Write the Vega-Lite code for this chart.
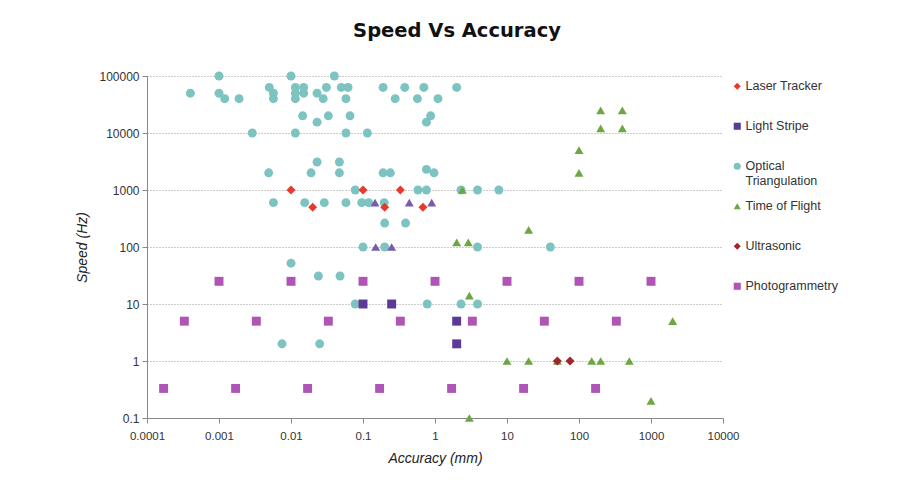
{
  "$schema": "https://vega.github.io/schema/vega-lite/v6.json",
  "autosize": "none",
  "width": 576,
  "height": 342,
  "padding": {"left": 147, "top": 76, "right": 189, "bottom": 69},
  "background": "white",
  "title": {
    "text": "Speed Vs Accuracy",
    "font": "DejaVu Sans",
    "fontSize": 19.5,
    "fontWeight": "bold",
    "color": "#111111",
    "anchor": "middle",
    "dx": 22,
    "offset": 29
  },
  "config": {
    "view": {"stroke": null},
    "axis": {"labelFont": "Liberation Sans", "titleFont": "Liberation Sans", "labelColor": "#333333", "titleColor": "#222222", "domainColor": "#888888", "tickColor": "#888888", "tickSize": 5}
  },
  "data": {
    "values": [
      {"series": "Optical Triangulation", "acc": 0.001, "speed": 100000},
      {"series": "Optical Triangulation", "acc": 0.01, "speed": 100000},
      {"series": "Optical Triangulation", "acc": 0.04, "speed": 100000},
      {"series": "Optical Triangulation", "acc": 0.005, "speed": 63000},
      {"series": "Optical Triangulation", "acc": 0.0115, "speed": 63000},
      {"series": "Optical Triangulation", "acc": 0.015, "speed": 63000},
      {"series": "Optical Triangulation", "acc": 0.031, "speed": 63000},
      {"series": "Optical Triangulation", "acc": 0.05, "speed": 63000},
      {"series": "Optical Triangulation", "acc": 0.062, "speed": 63000},
      {"series": "Optical Triangulation", "acc": 0.19, "speed": 63000},
      {"series": "Optical Triangulation", "acc": 0.38, "speed": 63000},
      {"series": "Optical Triangulation", "acc": 0.7, "speed": 63000},
      {"series": "Optical Triangulation", "acc": 2.0, "speed": 63000},
      {"series": "Optical Triangulation", "acc": 0.0004, "speed": 50000},
      {"series": "Optical Triangulation", "acc": 0.001, "speed": 50000},
      {"series": "Optical Triangulation", "acc": 0.0057, "speed": 50000},
      {"series": "Optical Triangulation", "acc": 0.0115, "speed": 50000},
      {"series": "Optical Triangulation", "acc": 0.015, "speed": 50000},
      {"series": "Optical Triangulation", "acc": 0.023, "speed": 50000},
      {"series": "Optical Triangulation", "acc": 0.0012, "speed": 40000},
      {"series": "Optical Triangulation", "acc": 0.0019, "speed": 40000},
      {"series": "Optical Triangulation", "acc": 0.0057, "speed": 40000},
      {"series": "Optical Triangulation", "acc": 0.0115, "speed": 40000},
      {"series": "Optical Triangulation", "acc": 0.028, "speed": 40000},
      {"series": "Optical Triangulation", "acc": 0.058, "speed": 40000},
      {"series": "Optical Triangulation", "acc": 0.28, "speed": 40000},
      {"series": "Optical Triangulation", "acc": 0.57, "speed": 40000},
      {"series": "Optical Triangulation", "acc": 1.1, "speed": 40000},
      {"series": "Optical Triangulation", "acc": 0.0145, "speed": 20000},
      {"series": "Optical Triangulation", "acc": 0.033, "speed": 20000},
      {"series": "Optical Triangulation", "acc": 0.066, "speed": 20000},
      {"series": "Optical Triangulation", "acc": 0.87, "speed": 20000},
      {"series": "Optical Triangulation", "acc": 0.023, "speed": 15500},
      {"series": "Optical Triangulation", "acc": 0.76, "speed": 15500},
      {"series": "Optical Triangulation", "acc": 0.0029, "speed": 10000},
      {"series": "Optical Triangulation", "acc": 0.0115, "speed": 10000},
      {"series": "Optical Triangulation", "acc": 0.058, "speed": 10000},
      {"series": "Optical Triangulation", "acc": 0.115, "speed": 10000},
      {"series": "Optical Triangulation", "acc": 0.023, "speed": 3100},
      {"series": "Optical Triangulation", "acc": 0.047, "speed": 3100},
      {"series": "Optical Triangulation", "acc": 0.0049, "speed": 2000},
      {"series": "Optical Triangulation", "acc": 0.019, "speed": 2000},
      {"series": "Optical Triangulation", "acc": 0.047, "speed": 2000},
      {"series": "Optical Triangulation", "acc": 0.19, "speed": 2000},
      {"series": "Optical Triangulation", "acc": 0.24, "speed": 2000},
      {"series": "Optical Triangulation", "acc": 0.76, "speed": 2300},
      {"series": "Optical Triangulation", "acc": 0.97, "speed": 2000},
      {"series": "Optical Triangulation", "acc": 0.078, "speed": 1000},
      {"series": "Optical Triangulation", "acc": 0.58, "speed": 1000},
      {"series": "Optical Triangulation", "acc": 0.76, "speed": 1000},
      {"series": "Optical Triangulation", "acc": 2.3, "speed": 1000},
      {"series": "Optical Triangulation", "acc": 3.9, "speed": 1000},
      {"series": "Optical Triangulation", "acc": 7.7, "speed": 1000},
      {"series": "Optical Triangulation", "acc": 0.0057, "speed": 600},
      {"series": "Optical Triangulation", "acc": 0.0155, "speed": 600},
      {"series": "Optical Triangulation", "acc": 0.029, "speed": 600},
      {"series": "Optical Triangulation", "acc": 0.058, "speed": 600},
      {"series": "Optical Triangulation", "acc": 0.096, "speed": 600},
      {"series": "Optical Triangulation", "acc": 0.12, "speed": 600},
      {"series": "Optical Triangulation", "acc": 0.197, "speed": 600},
      {"series": "Optical Triangulation", "acc": 0.2, "speed": 263},
      {"series": "Optical Triangulation", "acc": 0.39, "speed": 263},
      {"series": "Optical Triangulation", "acc": 0.1, "speed": 100},
      {"series": "Optical Triangulation", "acc": 0.2, "speed": 100},
      {"series": "Optical Triangulation", "acc": 3.9, "speed": 100},
      {"series": "Optical Triangulation", "acc": 40, "speed": 100},
      {"series": "Optical Triangulation", "acc": 0.01, "speed": 52},
      {"series": "Optical Triangulation", "acc": 0.024, "speed": 31},
      {"series": "Optical Triangulation", "acc": 0.048, "speed": 31},
      {"series": "Optical Triangulation", "acc": 0.078, "speed": 10},
      {"series": "Optical Triangulation", "acc": 0.78, "speed": 10},
      {"series": "Optical Triangulation", "acc": 2.3, "speed": 10},
      {"series": "Optical Triangulation", "acc": 3.9, "speed": 10},
      {"series": "Optical Triangulation", "acc": 0.0075, "speed": 2},
      {"series": "Optical Triangulation", "acc": 0.025, "speed": 2},
      {"series": "Laser Tracker", "acc": 0.01, "speed": 1000},
      {"series": "Laser Tracker", "acc": 0.1, "speed": 1000},
      {"series": "Laser Tracker", "acc": 0.33, "speed": 1000},
      {"series": "Laser Tracker", "acc": 0.02, "speed": 500},
      {"series": "Laser Tracker", "acc": 0.2, "speed": 500},
      {"series": "Laser Tracker", "acc": 0.68, "speed": 500},
      {"series": "Light Stripe", "acc": 0.1, "speed": 10},
      {"series": "Light Stripe", "acc": 0.25, "speed": 10},
      {"series": "Light Stripe", "acc": 2, "speed": 5},
      {"series": "Light Stripe", "acc": 2, "speed": 2},
      {"series": "Other", "acc": 0.147, "speed": 600},
      {"series": "Other", "acc": 0.44, "speed": 600},
      {"series": "Other", "acc": 0.9, "speed": 600},
      {"series": "Other", "acc": 0.15, "speed": 100},
      {"series": "Other", "acc": 0.25, "speed": 100},
      {"series": "Time of Flight", "acc": 200, "speed": 25000},
      {"series": "Time of Flight", "acc": 400, "speed": 25000},
      {"series": "Time of Flight", "acc": 200, "speed": 12000},
      {"series": "Time of Flight", "acc": 400, "speed": 12000},
      {"series": "Time of Flight", "acc": 100, "speed": 5000},
      {"series": "Time of Flight", "acc": 100, "speed": 2000},
      {"series": "Time of Flight", "acc": 2.4, "speed": 1000},
      {"series": "Time of Flight", "acc": 20, "speed": 200},
      {"series": "Time of Flight", "acc": 2, "speed": 120},
      {"series": "Time of Flight", "acc": 2.9, "speed": 120},
      {"series": "Time of Flight", "acc": 3, "speed": 14},
      {"series": "Time of Flight", "acc": 10, "speed": 1},
      {"series": "Time of Flight", "acc": 20, "speed": 1},
      {"series": "Time of Flight", "acc": 50, "speed": 1},
      {"series": "Time of Flight", "acc": 150, "speed": 1},
      {"series": "Time of Flight", "acc": 200, "speed": 1},
      {"series": "Time of Flight", "acc": 500, "speed": 1},
      {"series": "Time of Flight", "acc": 2000, "speed": 5},
      {"series": "Time of Flight", "acc": 1000, "speed": 0.2},
      {"series": "Time of Flight", "acc": 3, "speed": 0.1},
      {"series": "Ultrasonic", "acc": 50, "speed": 1},
      {"series": "Ultrasonic", "acc": 75, "speed": 1},
      {"series": "Photogrammetry", "acc": 0.001, "speed": 25},
      {"series": "Photogrammetry", "acc": 0.01, "speed": 25},
      {"series": "Photogrammetry", "acc": 0.1, "speed": 25},
      {"series": "Photogrammetry", "acc": 1, "speed": 25},
      {"series": "Photogrammetry", "acc": 10, "speed": 25},
      {"series": "Photogrammetry", "acc": 100, "speed": 25},
      {"series": "Photogrammetry", "acc": 1000, "speed": 25},
      {"series": "Photogrammetry", "acc": 0.00033, "speed": 5},
      {"series": "Photogrammetry", "acc": 0.0033, "speed": 5},
      {"series": "Photogrammetry", "acc": 0.033, "speed": 5},
      {"series": "Photogrammetry", "acc": 0.33, "speed": 5},
      {"series": "Photogrammetry", "acc": 3.3, "speed": 5},
      {"series": "Photogrammetry", "acc": 33, "speed": 5},
      {"series": "Photogrammetry", "acc": 330, "speed": 5},
      {"series": "Photogrammetry", "acc": 0.00017, "speed": 0.33},
      {"series": "Photogrammetry", "acc": 0.0017, "speed": 0.33},
      {"series": "Photogrammetry", "acc": 0.017, "speed": 0.33},
      {"series": "Photogrammetry", "acc": 0.17, "speed": 0.33},
      {"series": "Photogrammetry", "acc": 1.7, "speed": 0.33},
      {"series": "Photogrammetry", "acc": 17, "speed": 0.33},
      {"series": "Photogrammetry", "acc": 170, "speed": 0.33}
    ]
  },
  "mark": {"type": "point", "filled": true, "opacity": 1, "size": 80, "clip": false},
  "encoding": {
    "x": {
      "field": "acc", "type": "quantitative",
      "scale": {"type": "log", "domain": [0.0001, 10000], "nice": false},
      "axis": {
        "title": "Accuracy (mm)", "titleFontSize": 14, "titleFontStyle": "italic", "titleFontWeight": "normal",
        "titlePadding": 10, "labelFontSize": 11.5, "labelPadding": 7, "grid": false,
        "values": [0.0001, 0.001, 0.01, 0.1, 1, 10, 100, 1000, 10000], "format": "~g", "labelFlush": false, "labelOverlap": false
      }
    },
    "y": {
      "field": "speed", "type": "quantitative",
      "scale": {"type": "log", "domain": [0.1, 100000], "nice": false},
      "axis": {
        "title": "Speed (Hz)", "titleFontSize": 14, "titleFontStyle": "italic", "titleFontWeight": "normal",
        "titlePadding": 9, "labelFontSize": 12, "labelPadding": 3,
        "values": [0.1, 1, 10, 100, 1000, 10000, 100000], "format": "~g", "labelFlush": false, "labelOverlap": false,
        "grid": true, "gridColor": "#999999", "gridDash": [1, 2], "gridWidth": 1
      }
    },
    "color": {
      "field": "series", "type": "nominal",
      "scale": {
        "domain": ["Laser Tracker", "Light Stripe", "Optical Triangulation", "Time of Flight", "Ultrasonic", "Photogrammetry", "Other"],
        "range": ["#E8392B", "#5E3A98", "#7DC3C1", "#6CA743", "#A0262A", "#B055B5", "#7A5AB0"]
      },
      "legend": {
        "title": null, "orient": "none", "legendX": 584, "legendY": 4,
        "values": ["Laser Tracker", "Light Stripe", "Optical Triangulation", "Time of Flight", "Ultrasonic", "Photogrammetry"],
        "labelFont": "Liberation Sans", "labelFontSize": 12.5, "labelColor": "#333333",
        "symbolSize": 50, "labelOffset": 2, "rowPadding": 12, "gridAlign": "all", "padding": 0,
        "labelExpr": "datum.label == 'Optical Triangulation' ? ['Optical', 'Triangulation'] : datum.label",
        "labelBaseline": "middle"
      }
    },
    "shape": {
      "field": "series", "type": "nominal",
      "scale": {
        "domain": ["Laser Tracker", "Light Stripe", "Optical Triangulation", "Time of Flight", "Ultrasonic", "Photogrammetry", "Other"],
        "range": ["diamond", "square", "circle", "triangle-up", "diamond", "square", "triangle-up"]
      },
      "legend": {
        "title": null, "orient": "none", "legendX": 584, "legendY": 4,
        "values": ["Laser Tracker", "Light Stripe", "Optical Triangulation", "Time of Flight", "Ultrasonic", "Photogrammetry"],
        "labelFont": "Liberation Sans", "labelFontSize": 12.5, "labelColor": "#333333",
        "symbolSize": 50, "labelOffset": 2, "rowPadding": 12, "gridAlign": "all", "padding": 0,
        "labelExpr": "datum.label == 'Optical Triangulation' ? ['Optical', 'Triangulation'] : datum.label",
        "labelBaseline": "middle"
      }
    }
  }
}
